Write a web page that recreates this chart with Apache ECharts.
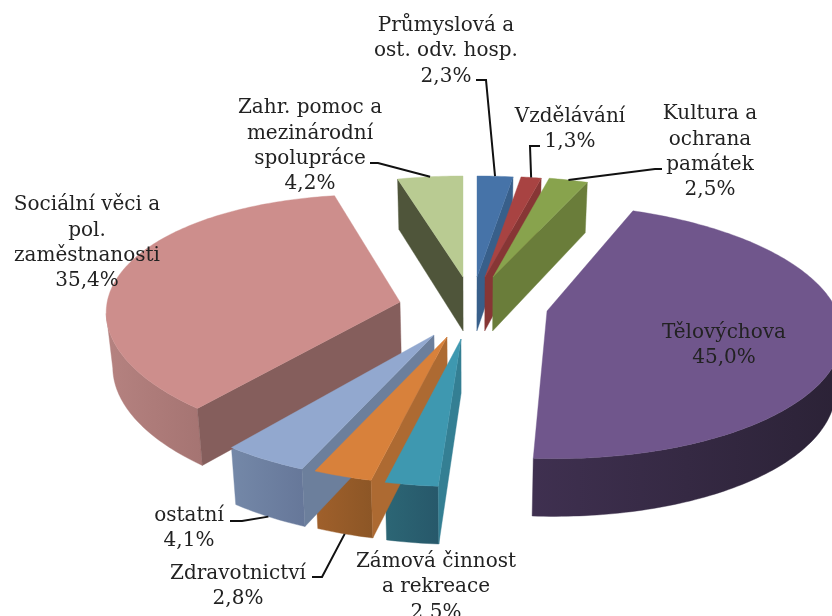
<!DOCTYPE html>
<html><head><meta charset="utf-8">
<style>html,body{margin:0;padding:0;background:#fff}#c{width:832px;height:616px}</style>
<script src="https://cdn.jsdelivr.net/npm/echarts@6/dist/echarts.min.js"></script>
</head><body><div id="c"></div>
<script>
const categories = ["Průmyslová a\nost. odv. hosp.","Vzdělávání","Kultura a\nochrana\npamátek","Tělovýchova","Zámová činnost\na rekreace","Zdravotnictví","ostatní","Sociální věci a\npol.\nzaměstnanosti","Zahr. pomoc a\nmezinárodní\nspolupráce"];
const values = [2.3,1.3,2.5,45.0,2.5,2.8,4.1,35.4,4.2];
const drawOrder = [8,7,6,5,4,0,1,2,3];

const PIE = {cx:470, cy:308, A:290, B:124, k:0.16, H:54, q:0.07, converge:0.018};
const explodeX = [7,15,23,77,-9,-23,-36,-70,-7];
const explodeY = [-31,-31,-31,3,31,29,27,-6,-31];
const squash = [0.945,0.945,0.945,1,1,1,1,1,0.945];
const skewX = [0,0,0,-9,0,0,0,0,0];
const tiltY = [0,0,0,0,0,0,0,10,0];
const topColors = ['#4673a8','#a84342','#88a34d','#70568c','#3e98b0','#d8813b','#92a8cf','#cd8e8c','#b9cb92'];
const wallColors = ['#385f8a','#873635','#6a7d3a','#3a2c4a','#347f93','#ad6a32','#6c7f9c','#855e5c','#4f553a'];
const arcFrom = ['#385f8a','#873635','#6a7d3a','#2b2236','#27586a','#8c5626','#667799','#a57472','#4f553a'];
const arcTo = ['#385f8a','#873635','#6a7d3a','#3f3050','#2c6675','#a0602b','#7488a8','#b58280','#4f553a'];
const labelX = [446,570,710,724,436,238,189,87,310];
const labelY = [51,129,152,345,587,586,528,243,146];
const leaderVia = [[[476,80],[486,80]],[[540,146],[530,146]],[[662,169],[655,169]],null,null,[[312,577],[322,577]],[[230,521],[242,521]],null,[[370,163],[378,163]]];
const leaderOnWall = [false,false,false,false,false,true,true,false,false];

const total = values.reduce((a,b)=>a+b,0);
const start = []; values.reduce((acc,v,i)=>{start[i]=acc;return acc+v;},0);
const toAngle = v => v/total*Math.PI*2;

function project(i, a, r, drop){
  const x=r*Math.sin(a), y=r*Math.cos(a), s=1/(1+PIE.k*y);
  const d=drop?PIE.H*(1-PIE.q*y):0;
  let sx=PIE.cx+explodeX[i]+PIE.A*x*s+skewX[i]*y;
  if(drop) sx-=(sx-PIE.cx)*PIE.converge;
  return [sx, PIE.cy+explodeY[i]-PIE.B*squash[i]*y*s+tiltY[i]*x+d];
}
const poly=(pts,fill,z)=>({type:'polygon',shape:{points:pts},z2:z,style:{fill,stroke:fill,lineWidth:0.4},silent:true});

function renderSlice(params, api){
  const i=api.value(0);
  const a0=toAngle(start[i]), a1=toAngle(start[i]+values[i]);
  const n=Math.max(8,Math.ceil((a1-a0)/(Math.PI/180)));
  const angles=[]; for(let t=0;t<=n;t++) angles.push(a0+(a1-a0)*t/n);
  const rim=angles.map(a=>project(i,a,1,false));
  const apex=project(i,0,0,false), apexB=project(i,0,0,true);
  const children=[];
  // outer wall: only the stretch of rim that runs leftwards on screen faces the viewer
  let seg=[];
  for(let t=0;t<n;t++){
    if(rim[t+1][0]<rim[t][0]){
      if(!seg.length) seg.push(t);
      seg.push(t+1);
    }
  }
  if(seg.length){
    const upper=seg.map(t=>rim[t]);
    const lower=seg.map(t=>project(i,angles[t],1,true)).reverse();
    children.push(poly(upper.concat(lower),new echarts.graphic.LinearGradient(0,0,1,0,[{offset:0,color:arcTo[i]},{offset:1,color:arcFrom[i]}]),1));
  }
  // radial walls
  const first=rim[0], last=rim[n];
  if(first[0]<apex[0]-0.5) children.push(poly([apex,first,project(i,a0,1,true),apexB],wallColors[i],2));
  if(last[0]>apex[0]+0.5) children.push(poly([last,apex,apexB,project(i,a1,1,true)],wallColors[i],2));
  children.push(poly([apex].concat(rim),topColors[i],3));
  return {type:'group',children};
}

function renderLabel(params, api){
  const i=api.value(0);
  const children=[];
  const via=leaderVia[i];
  if(via){
    const mid=toAngle(start[i]+values[i]/2);
    const end=project(i,mid,1,leaderOnWall[i]);
    children.push({type:'polyline',shape:{points:via.concat([end])},silent:true,style:{stroke:'#111',lineWidth:2,fill:null}});
  }
  children.push({type:'text',silent:true,style:{
    text:categories[i]+'\n'+values[i].toFixed(1).replace('.',',')+'%',
    x:labelX[i],y:labelY[i],align:'center',verticalAlign:'middle',
    font:'20px "DejaVu Serif"',lineHeight:25.3,fill:'#222'}});
  return {type:'group',children};
}

const chart=echarts.init(document.getElementById('c'),null,{renderer:'canvas'});
chart.setOption({
  animation:false,
  backgroundColor:'#fff',
  series:[
    {type:'custom',coordinateSystem:'none',renderItem:renderSlice,data:drawOrder.map(i=>[i]),z:2,clip:false,silent:true},
    {type:'custom',coordinateSystem:'none',renderItem:renderLabel,data:values.map((v,i)=>[i]),z:3,clip:false,silent:true}
  ]
});
</script></body></html>
